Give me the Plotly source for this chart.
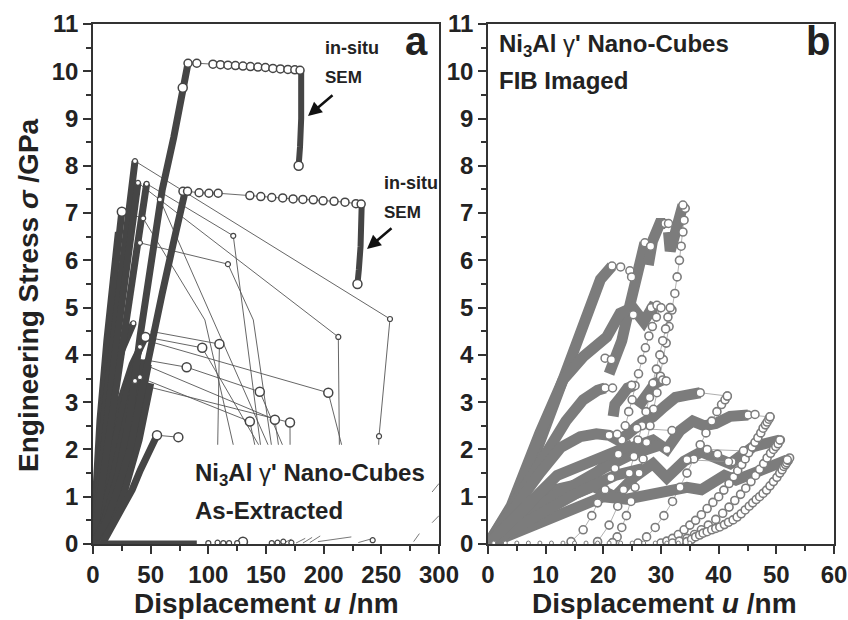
import plotly.graph_objects as go

# ---------------- Panel a (as-extracted) ----------------
a1_x = [0, 10, 22, 32, 40.8, 50, 60, 70, 77.8, 82.4]
a1_y = [0, 0.5, 1.5, 2.7, 4.39, 5.9, 7.49, 8.6, 9.65, 10.17]
a1_plat_x = [82.4, 90, 104, 110.5, 117, 123.5, 130, 136.5, 143, 149.5, 156, 162.5, 169, 175, 179.5]
a1_plat_y = [10.17, 10.17, 10.15, 10.14, 10.13, 10.12, 10.11, 10.1, 10.09, 10.08, 10.06, 10.05, 10.04, 10.03, 10.02]
a1_drop_x = [180.5, 181, 180.5, 179.5, 178.3]
a1_drop_y = [10.02, 9.6, 9.0, 8.4, 8.0]

a2_x = [0, 12, 22, 32, 42, 50.9, 60, 70, 80]
a2_y = [0, 0.5, 1.2, 2.0, 3.2, 4.32, 5.3, 6.4, 7.47]
a2_plat_x = [78, 82, 92, 100.5, 108.5, 136, 145.5, 155, 164.5, 173.5, 182, 191, 199.5, 209, 218.5, 228, 232.5]
a2_plat_y = [7.46, 7.46, 7.43, 7.42, 7.42, 7.37, 7.35, 7.33, 7.32, 7.3, 7.29, 7.28, 7.26, 7.25, 7.23, 7.2, 7.19]
a2_drop_x = [233, 233, 232, 230.5, 229.3]
a2_drop_y = [7.2, 6.8, 6.3, 5.8, 5.5]

a3_x = [0, 4, 8, 13, 19, 25]
a3_y = [0, 1.5, 3.0, 4.32, 5.7, 7.03]
a4_x = [0, 5, 10, 16, 22, 28, 33, 36.4]
a4_y = [0, 1.5, 2.8, 4.0, 5.2, 6.4, 7.4, 8.1]
a5_x = [0, 6, 12, 18, 24, 30, 35, 39]
a5_y = [0, 1.4, 2.6, 3.8, 4.9, 6.0, 6.9, 7.64]
a6_x = [0, 8, 15, 22, 29, 36, 42, 46.5]
a6_y = [0, 1.3, 2.4, 3.6, 4.7, 5.8, 6.8, 7.62]
f1_x = [0, 3, 8, 15, 25, 35]
f1_y = [0, 1.0, 2.2, 3.2, 4.1, 4.67]
f2_x = [0, 5, 12, 22, 34, 45.5]
f2_y = [0, 0.8, 1.8, 2.9, 3.8, 4.38]
f3_x = [0, 6, 15, 25, 35, 40.7]
f3_y = [0, 0.7, 1.7, 2.8, 3.7, 4.17]
f4_x = [0, 8, 18, 28, 36.4]
f4_y = [0, 0.6, 1.5, 2.6, 3.45]
f5_x = [0, 10, 20, 30, 40.7]
f5_y = [0, 0.5, 1.2, 2.3, 3.53]
f6_x = [0, 10, 22, 34, 44]
f6_y = [0, 0.45, 1.4, 2.8, 3.9]
f7_x = [0, 12, 24, 36, 48]
f7_y = [0, 0.4, 1.2, 2.3, 3.8]
f8_x = [0, 12, 26, 40, 50]
f8_y = [0, 0.35, 1.0, 2.2, 3.4]
f9_x = [0, 2, 6, 12, 17, 22]
f9_y = [0, 1.0, 2.6, 4.3, 5.6, 6.6]
a7_x = [8, 14, 20, 26, 34, 41, 48, 55.5]
a7_y = [0, 0.25, 0.5, 0.78, 1.15, 1.56, 1.95, 2.3]
tail_x = [3, 30, 60, 90]
tail_y = [0.03, 0.03, 0.03, 0.03]

t_lines = [
    ([36.4, 257.5, 248, 246], [8.1, 4.76, 2.28, 1.2]),
    ([39, 212.7, 214], [7.64, 4.38, 1.2]),
    ([46.5, 121.6, 150], [7.62, 6.52, 1.2]),
    ([47, 204, 225], [4.3, 3.2, 1.2]),
    ([45.5, 94.7, 165], [4.38, 4.15, 1.2]),
    ([50, 109.6, 107.5], [4.5, 4.23, 1.2]),
    ([44, 81.2, 144.6, 180], [3.9, 3.74, 3.22, 1.2]),
    ([44, 157.7, 166], [3.8, 2.63, 1.2]),
    ([43, 136, 148], [3.5, 2.59, 1.2]),
    ([44, 170.8, 171], [3.35, 2.57, 1.2]),
    ([43.5, 97, 130], [6.89, 4.74, 1.2]),
    ([40.7, 117, 139, 160], [6.37, 5.92, 4.74, 1.2]),
    ([25, 43.5], [7.03, 6.89]),
    ([58, 168], [7.29, 1.2]),
    ([55.5, 74, 78], [2.3, 2.26, 2.2]),
]
bigpt_x = [94.7, 109.6, 81.2, 144.6, 204, 136, 157.7, 170.8, 55.5, 74, 45.5, 25, 130, 178.3, 229.3, 77.8]
bigpt_y = [4.15, 4.23, 3.74, 3.22, 3.2, 2.59, 2.63, 2.57, 2.3, 2.26, 4.38, 7.03, 0.05, 8.0, 5.5, 9.65]
smallpt_x = [36.4, 257.5, 248, 212.7, 121.6, 117, 39, 46.5, 43.5, 40.7, 58, 35, 40.7, 36.4, 40.7,
             100, 108, 113, 118, 125, 155, 160, 165, 172, 242.5]
smallpt_y = [8.1, 4.76, 2.28, 4.38, 6.52, 5.92, 7.64, 7.62, 6.89, 6.37, 7.29, 4.67, 4.17, 3.45, 3.53,
             0.02, 0.03, 0.02, 0.02, 0.02, 0.02, 0.03, 0.05, 0.03, 0.08]
frag_x = [165, 172, None, 176, 184, None, 182, 190, None, 188, 197, None, 195, 224, None, 230, 243,
          None, 278, 283, None, 294, 300, None, 294, 300]
frag_y = [0.02, 0.1, None, 0.02, 0.12, None, 0.02, 0.14, None, 0.03, 0.17, None, 0.05, 0.15, None, 0.03, 0.12,
          None, 0.05, 0.22, None, 0.45, 0.6, None, 1.1, 1.28]

# ---------------- Panel b (FIB imaged) ----------------
bands = [
    ([0, 5.5, 8.5, 11.5, 14.5, 17.7, 19.5, 21.5], [0, 1, 2, 3, 4, 5.16, 5.6, 5.88]),
    ([21, 23.2, 24.5, 25.7, 27.2], [3.6, 4.3, 5.0, 5.7, 6.37]),
    ([27.8, 28.5, 29.8, 30.7], [5.9, 6.4, 6.78, 6.78]),
    ([31.3, 31.6, 32.3, 33.0, 33.8], [6.6, 6.2, 6.5, 6.9, 7.17]),
    ([0, 4, 9, 13, 16.5, 20.6, 22.9, 25.1, 27, 28.5, 29.5], [0, 0.8, 2.35, 3.47, 3.96, 4.38, 4.88, 5.0, 4.7, 5.0, 4.95]),
    ([0, 5, 10, 13.5, 16.5, 19, 20.3], [0, 0.9, 1.9, 2.6, 3.05, 3.25, 3.3]),
    ([21.7, 22, 23, 24.2, 25.3], [2.7, 2.95, 3.1, 3.3, 3.35]),
    ([26, 27.5, 29, 30.3], [2.9, 3.2, 3.4, 3.47]),
    ([0, 4, 9, 12.6, 16, 18.8, 21, 22.5, 24, 26, 28.6, 30.5, 32.5, 34.5, 36.8],
     [0, 0.7, 1.5, 2.04, 2.27, 2.33, 2.3, 2.2, 2.3, 2.5, 2.69, 2.9, 3.1, 3.15, 3.2]),
    ([0, 5, 11.3, 17, 20.6, 24, 28.6, 31, 33.3, 35.5, 37.5, 39.5, 42, 45.1],
     [0, 0.6, 1.14, 1.3, 1.7, 2.0, 2.2, 2.0, 2.4, 2.6, 2.5, 2.55, 2.7, 2.73]),
    ([0, 5, 11.3, 18.2, 22, 25.2, 28.6, 31, 34, 37, 39, 42, 46, 48.5, 50.6],
     [0, 0.45, 0.87, 1.22, 1.0, 1.4, 1.7, 1.4, 1.75, 1.95, 1.85, 1.7, 2.06, 2.15, 2.2]),
    ([0, 8, 15, 20, 24, 28, 31, 34.5, 37, 39, 41, 43, 46, 48.5, 51.9],
     [0, 0.4, 0.8, 1.0, 0.95, 1.05, 1.1, 1.2, 1.15, 1.3, 1.45, 1.35, 1.5, 1.6, 1.78]),
    ([0, 10, 20, 25, 30], [0, 0.9, 1.6, 1.9, 2.1]),
    ([0, 8, 15, 22, 27], [0, 0.55, 1.05, 1.45, 1.6]),
    ([0, 6, 12, 18, 22.5, 25], [0, 0.75, 1.45, 1.75, 1.95, 2.1]),
]
chains = [
    ([34.2, 34, 33.8, 33.5, 33.2, 32.8, 32.4, 31.9, 31.4, 30.9, 30.4, 29.9, 29.3, 28.7, 28.1, 27.5, 26.9, 26.2,
      25.5, 24.8, 24, 23.2, 22.4, 21.6],
     [7.1, 6.85, 6.6, 6.3, 6.0, 5.65, 5.3, 4.95, 4.6, 4.25, 3.9, 3.55, 3.2, 2.85, 2.5, 2.15, 1.8, 1.5, 1.2, 0.9,
      0.6, 0.35, 0.15, 0.03]),
    ([14.4, 16.5, 18, 19, 20.3, 21.3, 22, 22.6, 23.2, 23.8, 24.4, 25, 25.5, 26.1, 26.7, 27.3, 27.9, 28.5, 29.2, 29.9],
     [0.05, 0.3, 0.6, 0.87, 1.15, 1.4, 1.6, 1.9, 2.2, 2.5, 2.8, 3.05, 3.35, 3.6, 3.9, 4.15, 4.4, 4.6, 4.8, 5.0]),
    ([19, 21, 22.5, 23.5, 24.5, 25.3, 26, 26.7, 27.4, 28, 28.6, 29.2, 29.8, 30.3, 30.8, 31.2, 31.6],
     [0.05, 0.4, 0.8, 1.15, 1.5, 1.85, 2.2, 2.5, 2.8, 3.1, 3.4, 3.7, 4.0, 4.3, 4.55, 4.8, 5.0]),
    ([26, 27.5, 29, 30.5, 32, 33.3, 34.5, 35.7, 36.8, 37.8, 38.8, 39.7, 40.5, 41.1, 41.5],
     [0.02, 0.15, 0.35, 0.6, 0.9, 1.2, 1.5, 1.8, 2.1, 2.35, 2.6, 2.8, 2.95, 3.05, 3.13]),
    ([30, 31, 32, 33, 34, 35, 36, 37, 38, 39, 40, 40.9, 41.8, 42.6, 43.3, 44, 44.6, 45.2, 45.8, 46.3, 46.8,
      47.3, 47.7, 48.1, 48.4, 48.7, 48.9],
     [0.02, 0.06, 0.12, 0.2, 0.3, 0.4, 0.5, 0.62, 0.75, 0.88, 1.0, 1.14, 1.28, 1.42, 1.55, 1.68, 1.8, 1.93, 2.05,
      2.15, 2.25, 2.35, 2.45, 2.52, 2.58, 2.64, 2.69]),
    ([32, 33.2, 34.5, 35.8, 37, 38.2, 39.5, 40.7, 41.8, 42.8, 43.8, 44.7, 45.6, 46.4, 47.1, 47.8, 48.4, 49,
      49.5, 49.9, 50.3, 50.7],
     [0.02, 0.06, 0.12, 0.2, 0.3, 0.4, 0.52, 0.65, 0.78, 0.92, 1.05, 1.18, 1.32, 1.45, 1.58, 1.7, 1.82, 1.92,
      2.0, 2.06, 2.12, 2.2]),
    ([34.5, 35.3, 36, 36.7, 37.3, 38, 38.8, 39.5, 40.2, 41, 41.7, 42.5, 43.2, 43.9, 44.6, 45.3, 45.9, 46.5, 47.1,
      47.7, 48.3, 48.9, 49.5, 50.1, 50.6, 51, 51.3, 51.6, 51.8, 52.1, 52.3],
     [0.05, 0.1, 0.15, 0.19, 0.23, 0.26, 0.3, 0.33, 0.36, 0.41, 0.46, 0.51, 0.57, 0.64, 0.72, 0.8, 0.87, 0.94,
      1.0, 1.07, 1.14, 1.23, 1.32, 1.41, 1.5, 1.57, 1.64, 1.68, 1.72, 1.77, 1.82]),
]
b_links = [
    ([36.8, 41.5], [3.2, 3.13]),
    ([45.1, 48.9], [2.73, 2.69]),
    ([38, 44.3], [2.0, 1.97]),
    ([34.5, 42.3], [1.78, 1.74]),
    ([25.8, 31.9], [2.45, 2.4]),
]
b_pts_x = [21.5, 23, 24.6, 24.9, 27.2, 28.2, 30.7, 31.3, 33.8, 25.2, 28.3, 29.3, 30, 20.3, 21.6, 24.9, 30.3, 30.9,
           21, 22.4, 36.8, 41.5, 45.1, 46.3, 48.9, 38, 44.3, 34.5, 42.3, 31.9, 25.8, 39.8, 41.7, 50.6, 51.9, 31, 20.3, 21.4]
b_pts_y = [5.88, 5.86, 5.78, 5.65, 6.37, 6.3, 6.78, 6.78, 7.17, 4.85, 5.0, 5.05, 5.0, 3.3, 3.3, 3.36, 3.47, 3.45,
           2.3, 2.32, 3.2, 3.13, 2.73, 2.74, 2.69, 2.0, 1.97, 1.78, 1.74, 2.4, 2.45, 1.9, 1.74, 2.2, 1.78, 2.0, 3.93, 3.9]
base_x = [1, 3, 5, 7, 9, 11, 13, 15, 17, 19, 21, 23, 25, 27, 29, 31, 33, 35]
base_y = [0.02] * 18

# ---------------- Styles ----------------
DARK = "#454545"
GREY = "#7c7c7c"
FONT = "Liberation Sans"
W, H, OFF = 848, 620, 0   # page body margin is removed by the post script


def px(xr):
    return (xr - OFF) / W


def py(yr):
    return 1 - (yr - OFF) / H


fig = go.Figure()


def line(x, y, color, width, ax="x", ay="y"):
    fig.add_trace(go.Scatter(x=x, y=y, mode="lines", xaxis=ax, yaxis=ay,
                             line=dict(color=color, width=width),
                             hoverinfo="skip", showlegend=False))


def pts(x, y, color, size, ax="x", ay="y", lw=1.5, mode="markers", linew=0.8):
    fig.add_trace(go.Scatter(x=x, y=y, mode=mode, xaxis=ax, yaxis=ay,
                             line=dict(color=color, width=linew),
                             marker=dict(symbol="circle", size=size, color="white",
                                         line=dict(color=color, width=lw)),
                             hoverinfo="skip", showlegend=False))


# panel a
for tx, ty in t_lines:
    line(tx, ty, "#555555", 0.9)
for fx, fy in [(f1_x, f1_y), (f2_x, f2_y), (f3_x, f3_y), (f4_x, f4_y), (f5_x, f5_y),
               (f6_x, f6_y), (f7_x, f7_y), (f8_x, f8_y), (f9_x, f9_y)]:
    line(fx, fy, DARK, 7)
for cx, cy in [(a3_x, a3_y), (a4_x, a4_y), (a5_x, a5_y), (a6_x, a6_y), (a1_x, a1_y), (a2_x, a2_y)]:
    line(cx, cy, DARK, 7)
line(a7_x, a7_y, DARK, 7)
line(tail_x, tail_y, DARK, 4)
line(frag_x, frag_y, "#555555", 0.8)
line(a1_drop_x, a1_drop_y, DARK, 6)
line(a2_drop_x, a2_drop_y, DARK, 6)
pts(a1_plat_x, a1_plat_y, DARK, 8, mode="lines+markers")
pts(a2_plat_x, a2_plat_y, DARK, 8, mode="lines+markers", linew=0.8)
pts(bigpt_x, bigpt_y, DARK, 9)
pts(smallpt_x, smallpt_y, DARK, 5, lw=1.2)

fig.add_shape(type="rect", xref="x", yref="y", x0=80, x1=292, y0=0.25, y1=2.1,
              fillcolor="white", line=dict(width=0), layer="above")

# panel b
for bx, by in bands:
    line(bx, by, GREY, 11, "x2", "y2")
for lx, ly in b_links:
    line(lx, ly, "#999999", 0.8, "x2", "y2")
for cx, cy in chains:
    pts(cx, cy, GREY, 8, "x2", "y2", lw=1.6, mode="lines+markers", linew=0.6)
pts(b_pts_x, b_pts_y, GREY, 8, "x2", "y2")
pts(base_x, base_y, GREY, 4, "x2", "y2", lw=1)

# ---------------- Layout ----------------
tickfont = dict(family=FONT, size=24, color="#222222", weight="bold")
common = dict(showline=True, mirror=True, linecolor="#333333", linewidth=1.5,
              ticks="outside", ticklen=8, tickwidth=1.5, tickcolor="#333333",
              showgrid=False, zeroline=False, tickfont=tickfont, automargin=False)
minor_style = dict(ticklen=5, tickwidth=1.5, tickcolor="#333333", ticks="outside")
ydom = [py(544), py(24)]

fig.update_layout(
    width=W, height=H,
    margin=dict(l=0, r=0, t=0, b=0, autoexpand=False),
    paper_bgcolor="white", plot_bgcolor="white",
    xaxis=dict(domain=[px(93), px(439)], range=[0, 300], dtick=50, tick0=0,
               minor=dict(dtick=25, **minor_style), anchor="y", **common),
    yaxis=dict(domain=ydom, range=[0, 11], dtick=1, tick0=0,
               minor=dict(dtick=0.5, **minor_style), anchor="x", **common),
    xaxis2=dict(domain=[px(488), px(834)], range=[0, 60], dtick=10, tick0=0,
                minor=dict(dtick=5, **minor_style), anchor="y2", **common),
    yaxis2=dict(domain=ydom, range=[0, 11], dtick=1, tick0=0,
                minor=dict(dtick=0.5, **minor_style), anchor="x2", **common),
)

bold = dict(family=FONT, color="#222222", weight="bold")
ann = [
    dict(text="Engineering Stress <i>σ</i> /GPa", x=px(28), y=py(295), textangle=-90,
         font=dict(size=28, **bold)),
    dict(text="Displacement <i>u</i> /nm", x=px(266), y=py(603), font=dict(size=28, **bold)),
    dict(text="Displacement <i>u</i> /nm", x=px(664), y=py(603), font=dict(size=28, **bold)),
    dict(text="a", x=px(416), y=py(41), font=dict(size=40, **bold)),
    dict(text="b", x=px(818), y=py(41), font=dict(size=40, **bold)),
    dict(text="in-situ", x=px(323), y=py(48), xanchor="left", font=dict(size=18, **bold)),
    dict(text="SEM", x=px(323), y=py(78), xanchor="left", font=dict(size=17, **bold)),
    dict(text="in-situ", x=px(382), y=py(183), xanchor="left", font=dict(size=18, **bold)),
    dict(text="SEM", x=px(382), y=py(212), xanchor="left", font=dict(size=17, **bold)),
    dict(text="Ni<sub>3</sub>Al <span style='font-weight:normal'>γ</span>' Nano-Cubes",
         x=px(193), y=py(474), xanchor="left", font=dict(size=24, **bold)),
    dict(text="As-Extracted", x=px(193), y=py(510), xanchor="left", font=dict(size=24, **bold)),
    dict(text="Ni<sub>3</sub>Al <span style='font-weight:normal'>γ</span>' Nano-Cubes",
         x=px(497), y=py(45), xanchor="left", font=dict(size=24, **bold)),
    dict(text="FIB Imaged", x=px(497), y=py(81), xanchor="left", font=dict(size=24, **bold)),
]
for a in ann:
    a.setdefault("xanchor", "center")
    fig.add_annotation(xref="paper", yref="paper", showarrow=False, yanchor="middle", **a)

fig.add_annotation(xref="paper", yref="paper", x=px(308), y=py(116), ax=26, ay=-22,
                   showarrow=True, arrowhead=2, arrowsize=1.1, arrowwidth=2.5, arrowcolor="#111111", text="")
fig.add_annotation(xref="paper", yref="paper", x=px(367), y=py(249), ax=26, ay=-22,
                   showarrow=True, arrowhead=2, arrowsize=1.1, arrowwidth=2.5, arrowcolor="#111111", text="")

fig.write_html("out.html", config={"displayModeBar": False},
               post_script="document.body.style.margin='0px';")
